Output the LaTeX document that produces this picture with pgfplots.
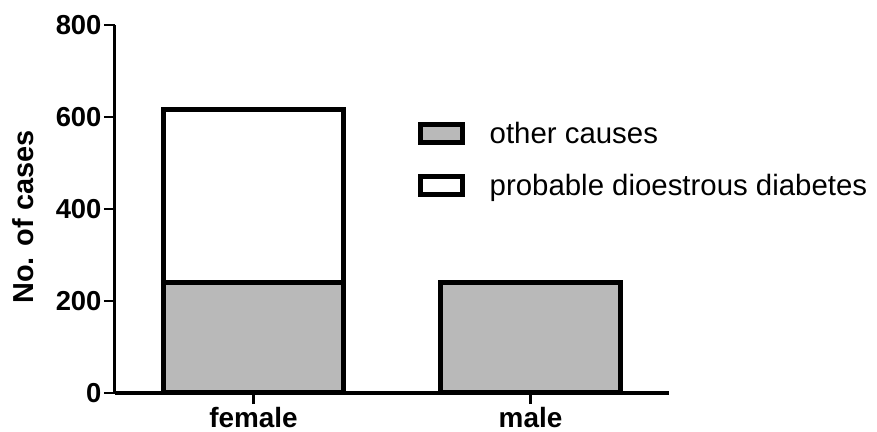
\documentclass[border=0pt]{standalone}
\usepackage{pgfplots}
\pgfplotsset{compat=1.18}
\usepackage{fontspec}
\setmainfont{Liberation Sans}
\definecolor{barfill}{RGB}{185,185,185}
\begin{document}
\begin{tikzpicture}
\path[use as bounding box] (-115bp,-39bp) rectangle (762bp,393bp);
\begin{axis}[
  at={(0,0)}, anchor=south west,
  scale only axis, width=554bp, height=368bp,
  ybar stacked, bar width=180bp,
  xmin=-0.5, xmax=1.5, ymin=0, ymax=800,
  xtick={0,1}, xticklabels={female,male},
  ytick={0,200,400,600,800},
  axis lines=left, axis line style={line width=3bp, -},
  every tick/.style={line width=2.5bp, black},
  major tick length=11bp,
  tick align=outside,
  /pgf/number format/assume math mode=true,
  ticklabel style={font=\bfseries\fontsize{27.5}{27.5}\selectfont},
  yticklabel style={xshift=1bp},
  xticklabel style={font=\bfseries\fontsize{28}{28}\selectfont, yshift=0bp},
  ylabel={No. of cases},
  ylabel style={font=\bfseries\fontsize{29}{29}\selectfont,
    at={(axis description cs:-0.166,0.478)}, anchor=center},
  legend style={draw=none, fill=none, at={(rel axis cs:0.547,0.742)}, anchor=north west,
    font=\fontsize{29.5}{29.5}\selectfont, inner sep=0pt, row sep=25bp,
    legend cell align=left, nodes={inner xsep=12bp}},
  legend image code/.code={\draw[line width=4.5bp,#1] (0bp,-9bp) rectangle (42bp,9bp);},
]
\addplot[draw=black, line width=5bp, fill=barfill] coordinates {(0,241) (1,241)};
\addplot[draw=black, line width=5bp, fill=white] coordinates {(0,376) (1,0)};
\legend{\hspace*{13bp}other causes, \hspace*{13bp}probable dioestrous diabetes}
\end{axis}
\end{tikzpicture}
\end{document}
